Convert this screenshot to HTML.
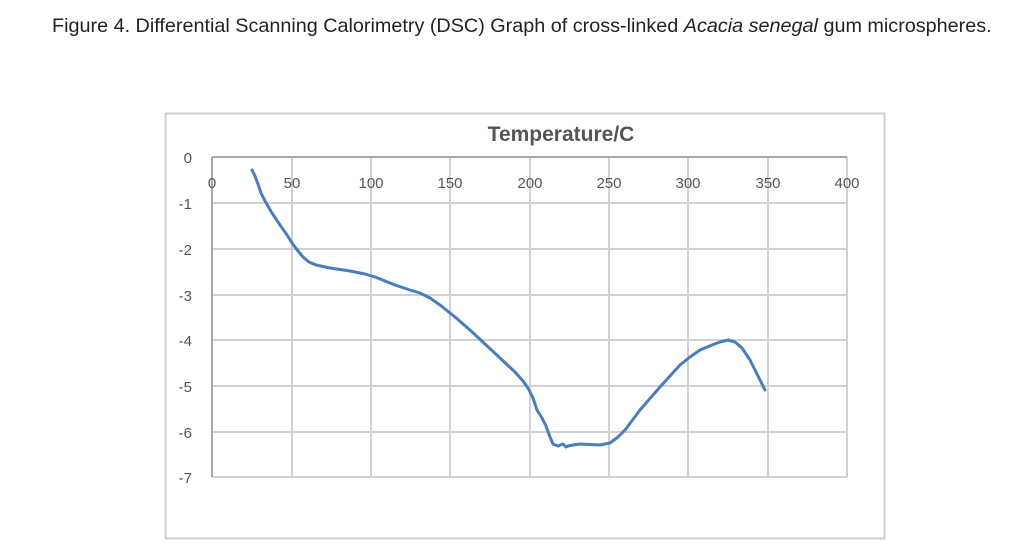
<!DOCTYPE html>
<html><head><style>
body{margin:0;background:#fff;width:1033px;height:555px;overflow:hidden;font-family:"Liberation Sans",sans-serif;}
.cap{position:absolute;left:52px;top:15px;font-size:19.8px;color:#222;white-space:nowrap;}
</style></head><body>
<div class="cap">Figure 4. Differential Scanning Calorimetry (DSC) Graph of cross-linked <i>Acacia senegal</i> gum microspheres.</div>
<svg width="1033" height="555" style="position:absolute;left:0;top:0" font-family="Liberation Sans, sans-serif">
<rect x="165.5" y="113.5" width="719" height="425" fill="none" stroke="#d0d0d4" stroke-width="2"/>
<text x="561" y="141" text-anchor="middle" font-size="21" font-weight="bold" fill="#555">Temperature/C</text>
<g stroke="#d0d0d6" stroke-width="2">
<line x1="212" y1="203" x2="847" y2="203"/><line x1="212" y1="249" x2="847" y2="249"/>
<line x1="212" y1="295" x2="847" y2="295"/><line x1="212" y1="340" x2="847" y2="340"/>
<line x1="212" y1="386" x2="847" y2="386"/><line x1="212" y1="432" x2="847" y2="432"/>
<line x1="212" y1="477" x2="847" y2="477"/>
<line x1="292" y1="157" x2="292" y2="477"/><line x1="371" y1="157" x2="371" y2="477"/>
<line x1="450" y1="157" x2="450" y2="477"/><line x1="530" y1="157" x2="530" y2="477"/>
<line x1="609" y1="157" x2="609" y2="477"/><line x1="688" y1="157" x2="688" y2="477"/>
<line x1="768" y1="157" x2="768" y2="477"/><line x1="847" y1="157" x2="847" y2="477"/>
</g>
<g stroke="#a8a8a8" stroke-width="2"><line x1="212" y1="157" x2="847" y2="157"/><line x1="212" y1="157" x2="212" y2="477"/></g>
<g font-size="15" fill="#555" text-anchor="end">
<text x="192" y="163">0</text><text x="192" y="209">-1</text><text x="192" y="255">-2</text>
<text x="192" y="301">-3</text><text x="192" y="346">-4</text><text x="192" y="392">-5</text>
<text x="192" y="438">-6</text><text x="192" y="483">-7</text></g>
<g font-size="15" fill="#555" text-anchor="middle">
<text x="212" y="188">0</text><text x="292" y="188">50</text><text x="371" y="188">100</text>
<text x="450" y="188">150</text><text x="530" y="188">200</text><text x="609" y="188">250</text>
<text x="688" y="188">300</text><text x="768" y="188">350</text><text x="847" y="188">400</text></g>
<polyline fill="none" stroke="#4a7ebb" stroke-width="3" stroke-linejoin="round" stroke-linecap="round"
points="252,170 255,176 258,184 261,193 265,201 272,213 280,225 287,235 292,243 298,251 303,257 309,262 316,265 330,268 350,271 365,274 375,277 395,285 410,290 420,293 430,298 440,305 455,317 470,330 485,344 500,358 515,372 523,381 528,388 533,398 537,410 542,418 546,426 550,437 553,444 558,446 563,444 566,447 568,446 573,445 580,444 600,445 610,443 618,437 625,430 640,410 660,387 680,365 690,357 700,350 712,345 720,342 728,340 735,342 742,348 750,360 765,390"/>
</svg>
</body></html>
